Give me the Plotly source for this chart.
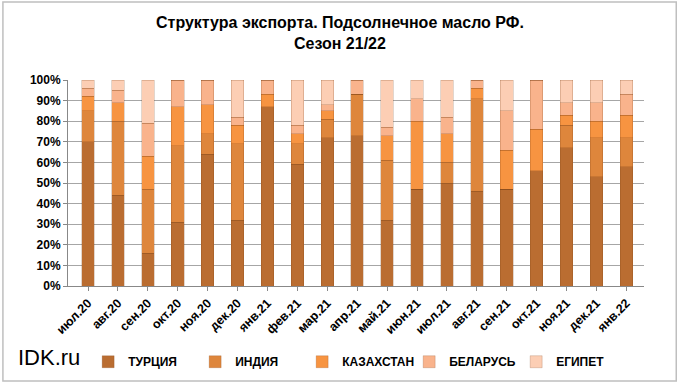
import plotly.graph_objects as go

months = ["июл.20", "авг.20", "сен.20", "окт.20", "ноя.20", "дек.20", "янв.21",
          "фев.21", "мар.21", "апр.21", "май.21", "июн.21", "июл.21", "авг.21",
          "сен.21", "окт.21", "ноя.21", "дек.21", "янв.22"]

turkey     = [70, 44, 16, 31, 64, 32, 87, 59, 72, 73, 32, 47, 50, 46, 47, 56, 67, 53, 58]
india      = [15, 36, 31, 37, 10, 37,  0, 10,  9, 20, 29,  0, 10, 45,  0,  0, 11, 19, 14]
kazakhstan = [ 7,  9, 16, 19, 14,  9,  6,  5,  4,  0, 12, 33, 14,  5, 19, 20,  5,  8, 11]
belarus    = [ 4,  6, 16, 13, 12,  4,  7,  4,  3,  7,  4, 11,  8,  4, 19, 24,  6,  9, 10]
egypt      = [ 4,  5, 21,  0,  0, 18,  0, 22, 12,  0, 23,  9, 18,  0, 15,  0, 11, 11,  7]

series = [
    ("ТУРЦИЯ", turkey, "#BA6D31"),
    ("ИНДИЯ", india, "#DE863C"),
    ("КАЗАХСТАН", kazakhstan, "#F79441"),
    ("БЕЛАРУСЬ", belarus, "#F9B38C"),
    ("ЕГИПЕТ", egypt, "#FCCEB4"),
]

yticks = [0, 10, 20, 30, 40, 50, 60, 70, 80, 90, 100]
ytick_labels = [f"{v}%" for v in yticks]

FONT = "Liberation Sans, Arial"

fig = go.Figure()
for name, vals, col in series:
    fig.add_trace(go.Bar(
        x=months, y=vals, name=f"<b>{name}</b>",
        marker=dict(color=col, line=dict(color="rgba(120,60,20,0.35)", width=0.6)),
        width=0.42,
    ))

fig.update_layout(
    barmode="stack",
    width=680, height=384,
    paper_bgcolor="white", plot_bgcolor="white",
    margin=dict(l=68, r=36, t=80, b=98, autoexpand=False),
    font=dict(family=FONT, color="black"),
    showlegend=True,
    legend=dict(
        orientation="h", x=0.035, xanchor="left",
        y=0.058, yanchor="middle", yref="container",
        font=dict(size=12, family=FONT),
        entrywidth=62, entrywidthmode="pixels",
        traceorder="normal",
        itemwidth=30,
    ),
)

fig.update_yaxes(
    range=[0, 100], tickvals=yticks, ticktext=[f"<b>{t}</b>" for t in ytick_labels],
    showgrid=True, gridcolor="#A6A6A6", gridwidth=1,
    tickfont=dict(size=12, family=FONT, color="black"),
    ticks="outside", ticklen=4, tickcolor="#888888",
    showline=True, linecolor="#888888",
    zeroline=False,
)
fig.update_xaxes(
    tickangle=-45,
    tickvals=months, ticktext=[f"<b>{m}</b>" for m in months],
    tickfont=dict(size=12.5, family=FONT, color="black"),
    ticks="outside", ticklen=4, tickcolor="#888888",
    showline=True, linecolor="#888888",
    range=[-0.67, 18.59],
)

fig.add_annotation(
    text="<b>Структура экспорта. Подсолнечное масло РФ.<br>Сезон 21/22</b>",
    xref="paper", yref="paper", x=(340 - 68) / 576, y=1.228,
    xanchor="center", yanchor="middle", showarrow=False,
    font=dict(size=16, family=FONT, color="black"),
)

fig.add_annotation(
    text="IDK.ru", xref="paper", yref="paper", x=-0.09, y=-0.345,
    xanchor="left", yanchor="middle", showarrow=False,
    font=dict(size=22, family=FONT, color="black"),
)

fig.add_shape(
    type="rect", xref="paper", yref="paper",
    x0=-0.113, x1=1.056, y0=-0.461, y1=1.379,
    line=dict(color="#BFBFBF", width=1.5), fillcolor="rgba(0,0,0,0)",
)

fig.write_html(
    "out.html",
    config={"displayModeBar": False},
    post_script="document.body.style.margin='0';document.body.style.overflow='hidden';",
)
